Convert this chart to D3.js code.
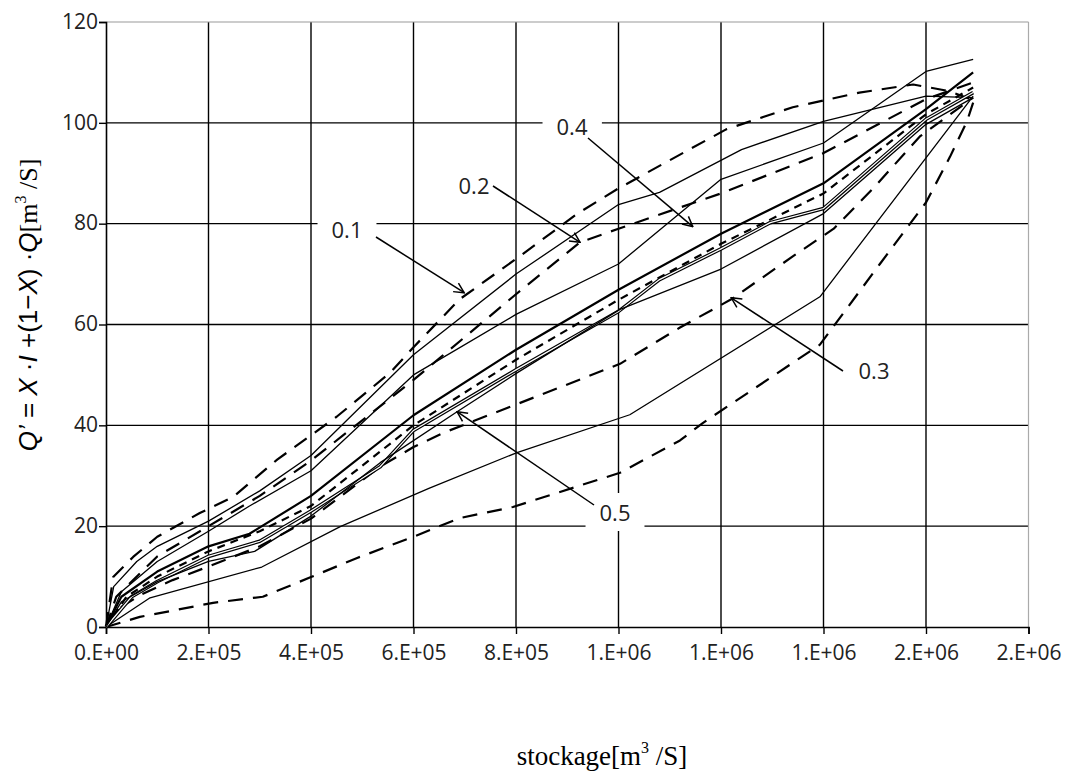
<!DOCTYPE html>
<html>
<head>
<meta charset="utf-8">
<script src="https://cdn.jsdelivr.net/npm/d3@7"></script>
<style>
  body { margin: 0; background: #fff; }
  svg { display: block; }
</style>
</head>
<body>
<svg id="chart" width="1073" height="772"></svg>
<script>
// storage in units of 1e5 m3, Q' in m3/s
var curveA = [[0,0],[0.14,9.9],[0.53,13.9],[1.0,17.9],[1.83,22.6],[2.48,25.8],[3.34,33.2],[4.5,41.7],[5.54,50.4],[6.0,55.5],[6.9,65],[8.0,73],[9.2,82],[10.0,87],[11.2,93.7],[12.1,98.7],[13.4,103.1],[14.7,106],[15.75,107.6],[16.45,106.3],[16.92,104.5]]
var curveB = [[0,0],[0.66,2],[2.09,4.8],[3.06,6],[4.0,9.9],[4.9,13.7],[6.0,17.9],[6.9,21.6],[7.94,23.8],[10.03,30.6],[11.2,37],[11.65,40.5],[13.93,56],[15.1,72],[16.0,84.2],[16.47,93.3],[16.8,100.3],[16.92,104]]
var curveC = [[0,0],[0.86,5.8],[3.04,11.9],[4.57,19.9],[6.3,27.5],[8.02,34.6],[10.22,42.1],[13.93,65.5],[16.92,105.3]]
var curveD = [[0,0],[0.3,4],[0.7,6.5],[1.3,9.3],[2,12],[3,16],[4,21.5],[5.35,31.8],[6,35.7],[6.58,38.5],[8.47,46],[10.03,52.2],[11.2,59.4],[12.2,65],[13.4,73.5],[14.2,79],[14.97,87],[15.88,97.3],[16.92,105]]
var curveE = [[0,0],[0.15,8],[0.6,13],[1,16],[2,21],[3,27],[4,34],[6,54],[8,70],[10,83.8],[10.8,86.2],[12.4,94.7],[14,100.3],[16,105.3],[16.92,105]]
var curveF = [[0,0],[0.3,7],[1,13],[2,19],[2.8,24],[4,31],[6,50],[8,62],[10,72],[12,88.8],[14,96],[16,110.2],[16.92,112.6]]
var curveG = [[0,0],[0.2,6],[1,14],[2,20],[3,26],[4,33],[6,49],[8,66],[9.25,76.3],[10,79],[12,86],[14,94],[16,104.7],[16.92,108]]
var curveH = [[0,0],[0.3,6],[1,11],[2,16],[2.8,18.5],[4,26],[6,42],[8,55],[10,66.9],[12,78],[14,88],[16,102.7],[16.92,110]]
var curveI = [[0,0],[0.4,6],[1,10],[2,15],[3,19],[4,24],[6,40],[8,53],[10,64.9],[12,76],[14,86],[16,101.7],[16.92,107]]
var curveJ = [[0,0],[0.5,6],[1,9],[2,14],[3,17],[4,23],[5.35,31.8],[6,39],[8,51],[10,62.6],[10.8,68.9],[12,75],[12.96,80.2],[14,83],[16,100.7],[16.92,106]]
var curveK = [[0,0],[0.3,5],[1,9],[2,13],[2.9,15],[4,22],[5.35,32.6],[6.85,42.7],[8.02,50.4],[10.03,63],[12,71],[14,82],[16,99.7],[16.92,105]]

var xTicks = [0, 2e5, 4e5, 6e5, 8e5, 1e6, 1.2e6, 1.4e6, 1.6e6, 1.8e6]
var yTicks = [0, 20, 40, 60, 80, 100, 120]

var series = [
  { pts: curveA, style: 'long' },
  { pts: curveB, style: 'long' },
  { pts: curveC, style: 'solid' },
  { pts: curveD, style: 'long' },
  { pts: curveE, style: 'solid' },
  { pts: curveF, style: 'solid' },
  { pts: curveG, style: 'long' },
  { pts: curveH, style: 'thick' },
  { pts: curveI, style: 'short' },
  { pts: curveJ, style: 'double' },
  { pts: curveK, style: 'solid' }
]

// label text, label centre, arrow start, arrow tip (data)
var notes = [
  { text: '0.1', at: [347, 229], from: [376, 237], tip: [6.99e5, 66.3] },
  { text: '0.2', at: [474, 185], from: [493, 186], tip: [9.25e5, 76.3] },
  { text: '0.4', at: [572, 126], from: [588, 138], tip: [11.45e5, 79.4] },
  { text: '0.3', at: [874, 370], from: [843, 371], tip: [12.2e5, 65.3] },
  { text: '0.5', at: [615, 512], from: [594, 505], tip: [6.85e5, 42.7] }
]

var svg = d3.select('#chart')

var x = d3.scaleLinear().domain([0, 1.8e6]).range([106, 1028.5])
var y = d3.scaleLinear().domain([0, 120]).range([627, 22])

function sci(v) {
  if (v === 0) return '0.E+00'
  var e = Math.floor(Math.log10(v))
  var m = Math.round(v / Math.pow(10, e))
  return m + '.E+' + (e < 10 ? '0' + e : e)
}

// grid
svg.append('g')
  .selectAll('line')
  .data(yTicks.slice(1, -1))
  .enter()
  .append('line')
  .attr('x1', x(0)).attr('x2', x(1.8e6))
  .attr('y1', d => y(d)).attr('y2', d => y(d))
  .attr('stroke', '#000').attr('stroke-width', 1.4)

svg.append('g')
  .selectAll('line')
  .data(xTicks.slice(1, -1))
  .enter()
  .append('line')
  .attr('x1', d => x(d)).attr('x2', d => x(d))
  .attr('y1', y(0)).attr('y2', y(120))
  .attr('stroke', '#000').attr('stroke-width', 1.4)

// frame: top & right lighter
svg.append('line').attr('x1', x(0)).attr('x2', x(1.8e6)).attr('y1', y(120)).attr('y2', y(120))
  .attr('stroke', '#999').attr('stroke-width', 1.2)
svg.append('line').attr('x1', x(1.8e6)).attr('x2', x(1.8e6)).attr('y1', y(0)).attr('y2', y(120))
  .attr('stroke', '#aaa').attr('stroke-width', 1.2)

var xAxis = d3.axisBottom(x).tickValues(xTicks).tickFormat(sci).tickSize(7).tickPadding(11)
var yAxis = d3.axisLeft(y).tickValues(yTicks).tickSize(7).tickPadding(1)

var gx = svg.append('g').attr('transform', 'translate(0,' + y(0) + ')').call(xAxis)
var gy = svg.append('g').attr('transform', 'translate(' + x(0) + ',0)').call(yAxis)
gx.select('.domain').attr('stroke-width', 1.6)
gy.select('.domain').attr('stroke-width', 1.6)
svg.selectAll('.tick line').attr('stroke-width', 1.4)
svg.selectAll('.tick text')
  .attr('font-family', 'Open Sans, sans-serif')
  .attr('font-size', 21)
  .attr('fill', '#222')
gx.selectAll('.tick text').attr('dy', '0.71em')
gy.selectAll('.tick text').attr('dy', '0.3em')

// curves
var line = d3.line()
  .x(d => x(d[0] * 1e5))
  .y(d => y(d[1]))

var styles = {
  solid: { w: 1.3, dash: null },
  thick: { w: 2.2, dash: null },
  long: { w: 2.2, dash: '15,10' },
  short: { w: 2.2, dash: '8,6' },
  double: { w: 3.6, dash: null }
}

var g = svg.append('g').attr('fill', 'none')
series.forEach(function(s) {
  var st = styles[s.style]
  g.append('path')
    .attr('d', line(s.pts))
    .attr('stroke', '#000')
    .attr('stroke-width', st.w)
    .attr('stroke-dasharray', st.dash)
    .attr('stroke-linejoin', 'round')
  if (s.style === 'double') {
    g.append('path')
      .attr('d', line(s.pts))
      .attr('stroke', '#fff')
      .attr('stroke-width', 1.2)
  }
})

// annotations
svg.append('defs').append('marker')
  .attr('id', 'arr')
  .attr('viewBox', '0 0 12 12')
  .attr('refX', 11).attr('refY', 6)
  .attr('markerWidth', 12).attr('markerHeight', 12)
  .attr('markerUnits', 'userSpaceOnUse')
  .attr('orient', 'auto')
  .append('path')
  .attr('d', 'M1,1 L11,6 L1,11')
  .attr('fill', 'none').attr('stroke', '#000').attr('stroke-width', 1.5)

notes.forEach(function(n) {
  var t = svg.append('text')
    .attr('x', n.at[0]).attr('y', n.at[1])
    .attr('text-anchor', 'middle')
    .attr('dominant-baseline', 'central')
    .attr('font-family', 'Open Sans, sans-serif')
    .attr('font-size', 22)
    .attr('fill', '#222')
    .text(n.text)
  var bb = t.node().getBBox()
  svg.insert('rect', function() { return t.node() })
    .attr('x', bb.x - 14).attr('y', bb.y - 4)
    .attr('width', bb.width + 28).attr('height', bb.height + 8)
    .attr('fill', '#fff')
  svg.append('line')
    .attr('x1', n.from[0]).attr('y1', n.from[1])
    .attr('x2', x(n.tip[0])).attr('y2', y(n.tip[1]))
    .attr('stroke', '#000').attr('stroke-width', 1.5)
    .attr('marker-end', 'url(#arr)')
})

// axis titles
var sans = 'Liberation Sans, Arial, sans-serif'
var serif = 'Liberation Serif, Times New Roman, serif'
var yl = svg.append('text')
  .attr('transform', 'translate(37,' + 305 + ') rotate(-90)')
  .attr('text-anchor', 'middle')
  .attr('font-size', 26)
  .attr('fill', '#000')
yl.append('tspan').attr('font-family', sans).attr('font-style', 'italic').text('Q’')
yl.append('tspan').attr('font-family', sans).text(' = ')
yl.append('tspan').attr('font-family', sans).attr('font-style', 'italic').text('X')
yl.append('tspan').attr('font-family', sans).text(' ·')
yl.append('tspan').attr('font-family', sans).attr('font-style', 'italic').text('I')
yl.append('tspan').attr('font-family', sans).text(' +(1−')
yl.append('tspan').attr('font-family', sans).attr('font-style', 'italic').text('X')
yl.append('tspan').attr('font-family', sans).text(') ·')
yl.append('tspan').attr('font-family', sans).attr('font-style', 'italic').text('Q')
yl.append('tspan').attr('font-family', serif).text('[m')
yl.append('tspan').attr('font-family', serif).attr('font-size', 16).attr('dy', -11).text('3')
yl.append('tspan').attr('font-family', serif).attr('dy', 11).text(' /S]')

var xl = svg.append('text')
  .attr('x', 602).attr('y', 765)
  .attr('text-anchor', 'middle')
  .attr('font-family', serif)
  .attr('font-size', 27)
  .attr('fill', '#000')
xl.append('tspan').text('stockage[m')
xl.append('tspan').attr('font-size', 16).attr('dy', -12).text('3')
xl.append('tspan').attr('dy', 12).text(' /S]')
</script>
</body>
</html>
